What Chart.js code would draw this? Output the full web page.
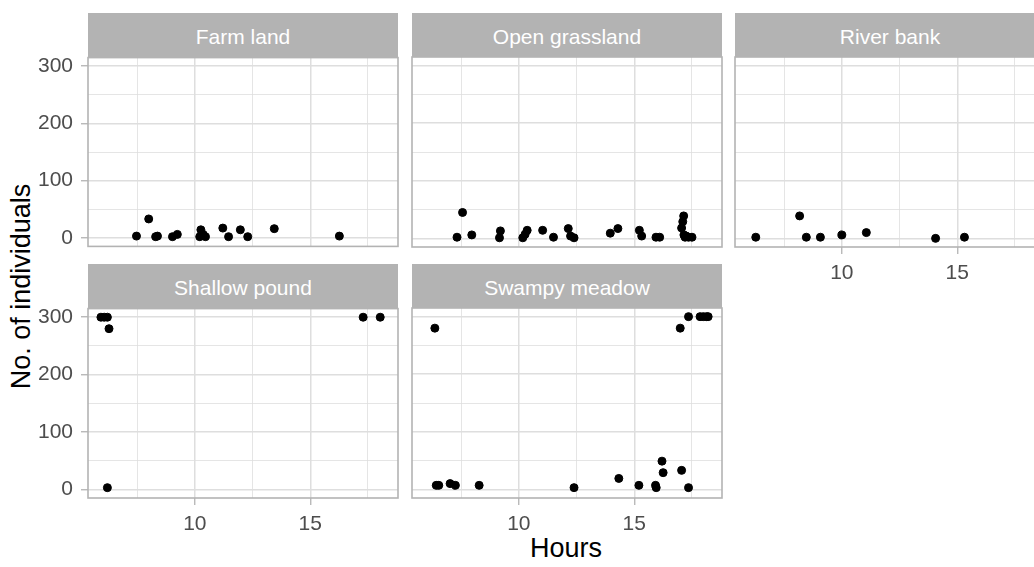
<!DOCTYPE html>
<html>
<head>
<meta charset="utf-8">
<script src="https://cdn.jsdelivr.net/npm/chart.js@4/dist/chart.umd.min.js"></script>
<style>
  body { margin: 0; width: 1034px; height: 567px; overflow: hidden; background: #fff; position: relative; font-family: "Liberation Sans", Arial, sans-serif; }
  canvas { position: absolute; }
  .strip { position: absolute; background: #b3b3b3; color: #fff; font-size: 21px; display: flex; align-items: center; justify-content: center; padding-top: 4px; box-sizing: border-box; }
  .axis-title { position: absolute; color: #000; font-size: 27px; white-space: nowrap; }
</style>
</head>
<body>
<div class="axis-title" id="xTitle">Hours</div>
<div class="axis-title" id="yTitle">No. of individuals</div>
<script>
// facet names
const panels = ['Farm land', 'Open grassland', 'River bank', 'Shallow pound', 'Swampy meadow'];

// Farm land
const farmHours = [7.47, 8.0, 8.3, 8.38, 9.03, 9.24, 10.21, 10.26, 10.36, 10.46, 11.21, 11.46, 11.97, 12.29, 13.44, 16.26];
const farmCount = [3, 33, 2, 3, 2, 6, 2, 14, 6, 2, 17, 2, 14, 2, 16, 3];

// Open grassland
const grassHours = [7.32, 7.56, 7.96, 9.16, 9.2, 10.17, 10.27, 10.36, 11.03, 11.5, 12.14, 12.24, 12.39, 13.96, 14.29, 15.22, 15.32, 15.94, 16.1, 17.05, 17.1, 17.14, 17.15, 17.2, 17.25, 17.35, 17.5];
const grassCount = [2, 45, 6, 1, 13, 1, 7, 14, 14, 2, 17, 4, 1, 9, 17, 14, 4, 2, 2, 18, 29, 39, 6, 2, 4, 2, 2];

// River bank
const riverHours = [6.27, 8.17, 8.46, 9.07, 10.0, 11.06, 14.06, 15.31];
const riverCount = [2, 39, 2, 2, 6, 10, 0, 2];

// Shallow pound
const pondHours = [5.93, 6.07, 6.21, 6.28, 6.21, 17.29, 18.03];
const pondCount = [300, 300, 300, 280, 3, 300, 300];

// Swampy meadow
const swampHours = [6.36, 6.42, 6.53, 7.02, 7.25, 8.28, 12.39, 14.33, 15.2, 15.92, 15.95, 16.2, 16.25, 16.99, 17.05, 17.35, 17.35, 17.85, 17.99, 18.13, 18.2];
const swampCount = [280, 7, 7, 10, 7, 7, 3, 19, 7, 7, 3, 49, 29, 280, 33, 3, 300, 300, 300, 300, 300];

const xMajorTicks = [10, 15];
const yMajorTicks = [0, 100, 200, 300];

document.addEventListener('DOMContentLoaded', () => {
    const colLefts = [88, 412, 735];
    const rowTops = [57, 308];
    const panelW = 310;
    const panelH = 190;
    const pad = 20;

    const series = [
        { hours: farmHours, count: farmCount, col: 0, row: 0, showX: false, showY: true },
        { hours: grassHours, count: grassCount, col: 1, row: 0, showX: false, showY: false },
        { hours: riverHours, count: riverCount, col: 2, row: 0, showX: true, showY: false },
        { hours: pondHours, count: pondCount, col: 0, row: 1, showX: true, showY: true },
        { hours: swampHours, count: swampCount, col: 1, row: 1, showX: true, showY: false },
    ];

    const panelBorder = {
        id: 'panelBorder',
        afterDatasetsDraw(chart) {
            const a = chart.chartArea;
            const ctx = chart.ctx;
            ctx.save();
            ctx.strokeStyle = '#b3b3b3';
            ctx.lineWidth = 1.6;
            ctx.strokeRect(a.left, a.top, a.right - a.left, a.bottom - a.top);
            ctx.restore();
        }
    };

    series.forEach((s, i) => {
        const left = s.showY ? 60 : 0;
        const bottom = s.showX ? 48 : 0;
        const px = colLefts[s.col];
        const py = rowTops[s.row];

        // strip header
        const strip = document.createElement('div');
        strip.className = 'strip';
        strip.textContent = panels[i];
        strip.style.left = px + 'px';
        strip.style.top = (py - 44) + 'px';
        strip.style.width = panelW + 'px';
        strip.style.height = '44px';
        document.body.appendChild(strip);

        const canvas = document.createElement('canvas');
        canvas.width = panelW + left + 2 * pad;
        canvas.height = panelH + bottom + 2 * pad;
        canvas.style.left = (px - left - pad) + 'px';
        canvas.style.top = (py - pad) + 'px';
        document.body.appendChild(canvas);

        const points = s.hours.map((h, k) => ({ x: h, y: s.count[k] }));

        new Chart(canvas.getContext('2d'), {
            type: 'scatter',
            data: {
                datasets: [{
                    data: points,
                    backgroundColor: '#000',
                    borderColor: '#000',
                    pointRadius: 4,
                    pointHoverRadius: 4
                }]
            },
            options: {
                responsive: false,
                animation: false,
                layout: { padding: pad },
                plugins: { legend: { display: false }, tooltip: { enabled: false } },
                scales: {
                    x: {
                        type: 'linear',
                        min: 5.37,
                        max: 18.8,
                        afterFit: (scale) => { scale.height = bottom; },
                        border: { display: false },
                        grid: {
                            color: '#dedede',
                            lineWidth: (c) => xMajorTicks.includes(c.tick.value) ? 1.5 : 0.8,
                            drawTicks: s.showX,
                            tickLength: 7,
                            tickColor: (c) => xMajorTicks.includes(c.tick.value) ? '#b3b3b3' : 'rgba(0,0,0,0)',
                            tickWidth: 1.3
                        },
                        ticks: {
                            display: s.showX,
                            stepSize: 2.5,
                            includeBounds: false,
                            autoSkip: false,
                            maxRotation: 0,
                            padding: 7,
                            color: '#4d4d4d',
                            font: { family: '"Liberation Sans", Arial', size: 21 },
                            callback: (v) => xMajorTicks.includes(v) ? v : ''
                        }
                    },
                    y: {
                        min: -15,
                        max: 315,
                        afterFit: (scale) => { scale.width = left; },
                        border: { display: false },
                        grid: {
                            color: '#dedede',
                            lineWidth: (c) => yMajorTicks.includes(c.tick.value) ? 1.5 : 0.8,
                            drawTicks: s.showY,
                            tickLength: 7,
                            tickColor: (c) => yMajorTicks.includes(c.tick.value) ? '#b3b3b3' : 'rgba(0,0,0,0)',
                            tickWidth: 1.3
                        },
                        ticks: {
                            display: s.showY,
                            stepSize: 50,
                            includeBounds: false,
                            autoSkip: false,
                            padding: 8,
                            color: '#4d4d4d',
                            font: { family: '"Liberation Sans", Arial', size: 21 },
                            callback: (v) => yMajorTicks.includes(v) ? v : ''
                        }
                    }
                }
            },
            plugins: [panelBorder]
        });
    });

    // axis titles
    const xTitle = document.getElementById('xTitle');
    xTitle.style.left = (566 - xTitle.offsetWidth / 2) + 'px';
    xTitle.style.top = (548 - xTitle.offsetHeight / 2) + 'px';

    const yTitle = document.getElementById('yTitle');
    yTitle.style.left = (22 - yTitle.offsetWidth / 2) + 'px';
    yTitle.style.top = (286 - yTitle.offsetHeight / 2) + 'px';
    yTitle.style.transform = 'rotate(-90deg)';
});
</script>
</body>
</html>
